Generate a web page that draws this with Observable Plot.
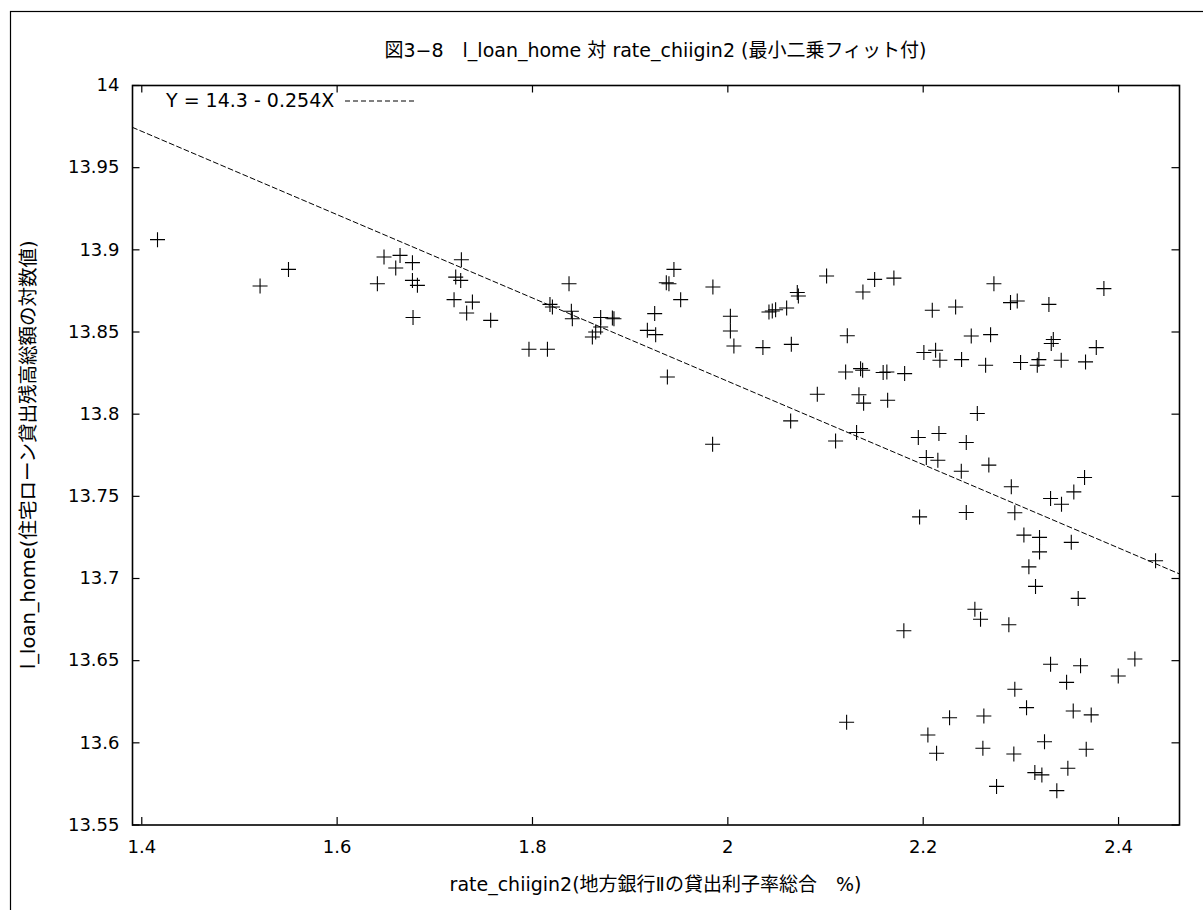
<!DOCTYPE html>
<html><head><meta charset="utf-8">
<script src="https://cdn.jsdelivr.net/npm/d3@7"></script>
<script src="https://cdn.jsdelivr.net/npm/@observablehq/plot@0.6"></script>
<style>
body{margin:0;background:#fff;}
#wrap{position:relative;width:1203px;height:910px;overflow:hidden;}
</style></head><body><div id="wrap"></div>
<script>
// data
const rate = [1.4161,1.5211,1.5502,1.6412,1.6480,1.6644,1.6600,1.6771,1.6771,1.6822,
1.6777,1.7197,1.7214,1.7265,1.7272,1.7326,1.7385,1.7572,1.7964,1.8153,
1.8179,1.8204,1.8374,1.8398,1.8408,1.8613,1.8647,1.8698,1.8698,1.8818,
1.8834,1.9176,1.9251,1.9261,1.9370,1.9397,1.9381,1.9448,1.9517,1.9847,
1.9844,2.0026,2.0026,2.0062,2.0359,2.0421,2.0455,2.0489,2.0602,2.0650,
2.0711,2.0722,2.0643,2.0916,2.1011,2.1103,2.1223,2.1206,2.1216,2.1318,
2.1342,2.1359,2.1380,2.1383,2.1390,2.1503,2.1590,2.1628,2.1636,2.1700,
2.1810,2.1802,2.1950,2.1963,2.2007,2.2032,2.2048,2.2093,2.2127,2.2137,
2.2150,2.2161,2.2171,2.2270,2.2332,2.2393,2.2390,2.2441,2.2441,2.2492,
2.2529,2.2554,2.2587,2.2611,2.2621,2.2639,2.2672,2.2690,2.2724,2.2751,
2.2877,2.2894,2.2902,2.2928,2.2938,2.2938,2.2963,2.2997,2.3031,2.3058,
2.3082,2.3143,2.3150,2.3168,2.3184,2.3191,2.3191,2.3215,2.3242,2.3287,
2.3304,2.3304,2.3311,2.3332,2.3368,2.3413,2.3416,2.3468,2.3481,2.3516,
2.3536,2.3542,2.3587,2.3611,2.3652,2.3662,2.3669,2.3720,2.3772,2.3850,
2.3997,2.4167,2.4379];
const loanHome = [13.9062,13.8780,13.8881,13.8794,13.8956,13.8966,13.8889,13.8922,13.8814,13.8784,
13.8588,13.8697,13.8834,13.8814,13.8940,13.8616,13.8682,13.8571,13.8395,13.8395,
13.8668,13.8652,13.8794,13.8626,13.8581,13.8470,13.8500,13.8530,13.8588,13.8585,
13.8581,13.8510,13.8612,13.8484,13.8800,13.8794,13.8226,13.8881,13.8697,13.8774,
13.7817,13.8596,13.8506,13.8415,13.8405,13.8622,13.8628,13.8635,13.8646,13.8425,
13.8740,13.8719,13.7959,13.8121,13.8841,13.7837,13.8477,13.8257,13.6125,13.7888,
13.8118,13.8277,13.8267,13.8743,13.8067,13.8820,13.8254,13.8257,13.8085,13.8828,
13.8247,13.6682,13.7858,13.7375,13.8375,13.7736,13.6048,13.8632,13.8389,13.5937,
13.7720,13.7882,13.8328,13.6153,13.8652,13.8332,13.7653,13.7828,13.7402,13.8476,
13.6813,13.8004,13.6752,13.5967,13.6163,13.8298,13.7690,13.8484,13.8794,13.5735,
13.6719,13.8679,13.7558,13.5932,13.6326,13.7400,13.8689,13.8314,13.7264,13.6214,
13.7071,13.5819,13.6952,13.8298,13.8332,13.7250,13.7162,13.5805,13.6007,13.8668,
13.7487,13.6478,13.8430,13.8454,13.5709,13.8328,13.7452,13.6368,13.5845,13.7220,
13.6194,13.7527,13.6879,13.6469,13.7615,13.8318,13.5961,13.6170,13.8405,13.8764,
13.6407,13.6510,13.7108];
const xTicks = [1.4, 1.6, 1.8, 2, 2.2, 2.4];
const yTicks = [13.55, 13.6, 13.65, 13.7, 13.75, 13.8, 13.85, 13.9, 13.95, 14];
const xDomain = [1.3905, 2.4624];
const yDomain = [13.55, 14];
const fitIntercept = 14.327;
const fitSlope = -0.2535;
const titleText = "図3−8　l_loan_home 対 rate_chiigin2 (最小二乗フィット付)";
const xLabel = "rate_chiigin2(地方銀行Ⅱの貸出利子率総合　%)";
const yLabel = "l_loan_home(住宅ローン貸出残高総額の対数値)";
const keyText = "Y = 14.3 - 0.254X";

const FONT = '"DejaVu Sans","Noto Sans CJK JP",sans-serif';
const W = 1203, H = 910, mL = 132, mR = 24, mT = 85, mB = 85.5;
const innerW = W - mL - mR, innerH = H - mT - mB;
const points = rate.map((x, i) => ({x, y: loanHome[i]}));
const fit = xDomain.map(x => ({x, y: fitIntercept + fitSlope * x}));
const plus = {draw(ctx, size) {
  const r = Math.sqrt(size / Math.PI);
  ctx.moveTo(-r, 0); ctx.lineTo(r, 0);
  ctx.moveTo(0, -r); ctx.lineTo(0, r);
}};

const plot = Plot.plot({
  width: W, height: H,
  marginLeft: mL, marginRight: mR, marginTop: mT, marginBottom: mB,
  style: {fontFamily: FONT, fontSize: "18px", color: "#000", background: "#fff"},
  x: {domain: xDomain},
  y: {domain: yDomain},
  marks: [
    Plot.line(fit, {x: "x", y: "y", stroke: "#000", strokeWidth: 1, strokeDasharray: "5,3"}),
    Plot.dot(points, {x: "x", y: "y", symbol: plus, r: 7.5, stroke: "#000", fill: "none", strokeWidth: 1.1}),
    Plot.tickX(xTicks, {x: d => d, insetTop: innerH - 7.5, stroke: "#000", strokeWidth: 1.2}),
    Plot.tickX(xTicks, {x: d => d, insetBottom: innerH - 7.5, stroke: "#000", strokeWidth: 1.2}),
    Plot.tickY(yTicks, {y: d => d, insetRight: innerW - 7.5, stroke: "#000", strokeWidth: 1.2}),
    Plot.tickY(yTicks, {y: d => d, insetLeft: innerW - 7.5, stroke: "#000", strokeWidth: 1.2}),
    Plot.frame({stroke: "#000", strokeWidth: 1.6}),
    Plot.axisX({ticks: xTicks, tickSize: 0, tickPadding: 15, tickFormat: d => String(d), label: null, fill: "#000"}),
    Plot.axisY({ticks: yTicks, tickSize: 0, tickPadding: 13, tickFormat: d => String(d), label: null, fill: "#000"})
  ]
});
document.getElementById("wrap").appendChild(plot);

const svg = d3.select(plot);
svg.append("rect").attr("x", 10.5).attr("y", 11.5).attr("width", 1300).attr("height", 1000)
  .attr("fill", "none").attr("stroke", "#000").attr("stroke-width", 1.2);
const txt = (x, y, s, anchor) => svg.append("text").attr("x", x).attr("y", y)
  .attr("text-anchor", anchor).attr("font-family", FONT).attr("font-size", 19).attr("fill", "#000").text(s);
txt(mL + innerW / 2, 57, titleText, "middle");
txt(mL + innerW / 2, 891, xLabel, "middle");
svg.append("text").attr("transform", `translate(35,${mT + innerH / 2}) rotate(-90)`)
  .attr("text-anchor", "middle").attr("font-family", FONT).attr("font-size", 19.5).attr("fill", "#000").text(yLabel);
txt(166, 107, keyText, "start");
svg.append("line").attr("x1", 345).attr("x2", 414).attr("y1", 101).attr("y2", 101)
  .attr("stroke", "#000").attr("stroke-width", 1).attr("stroke-dasharray", "5,3");
</script></body></html>
